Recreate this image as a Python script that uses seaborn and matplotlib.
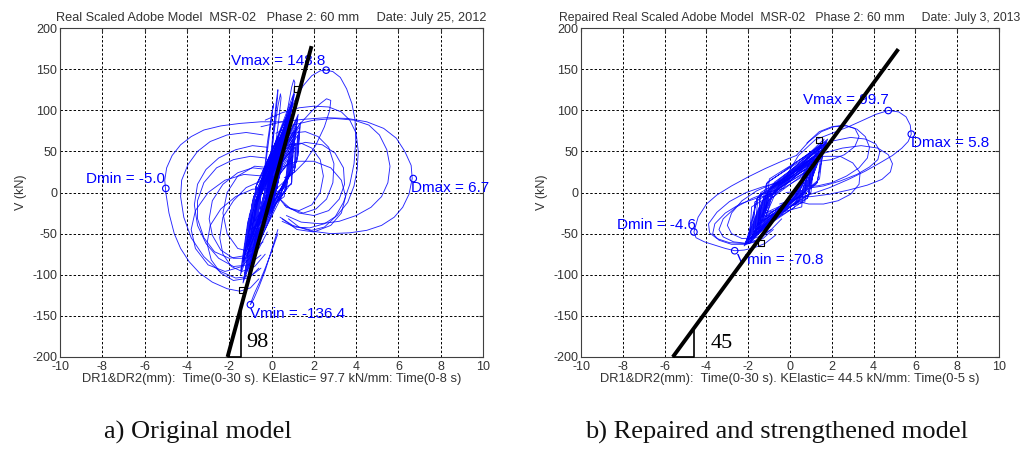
import numpy as np
import pandas as pd
import matplotlib
matplotlib.use("Agg")
import matplotlib.pyplot as plt
import seaborn as sns

# ---------------- Panel a) Original model ----------------
a_title = "Real Scaled Adobe Model  MSR-02   Phase 2: 60 mm     Date: July 25, 2012"
a_xlabel = "DR1&DR2(mm):  Time(0-30 s). KElastic= 97.7 kN/mm: Time(0-8 s)"
a_caption = "a) Original model"

a_core_d = [-0.2, 0.25, 0.5, -0.55, -0.8, 0.27, 0.72, -0.53, -0.99, 0.25, 0.31, -0.55, -0.62,
            0.27, 0.95, -0.53, -1.21, 0.25, 0.59, -0.55, -0.9, 0.13, 0.81, -0.67, -1.35,
            0.25, 0.4, -0.55, -0.71, 0.38, 1.04, -0.42, -1.08, 0.09, 0.63, -0.71, -1.26,
            0.25, 0.22, -0.55, -0.53, 0.31, 0.77, -0.49, -0.94, 0.11, 0.54, -0.69, -1.12,
            0.43, 0.9, -0.37, -0.85, 0.06, 0.36, -0.74, -1.03, 0.36, 0.68, -0.44, -0.76,
            0.04, 0.45, -0.76, -1.17, 0.5, 0.86, -0.3, -0.67, 0.09, 0.27, -0.71, -0.9,
            0.12, 0.75, -0.68, -1.3, 0.26, 0.51, -0.54, -0.79]
a_core_v = [0, 5, 60, 5, -50, 7.5, 85, 7.5, -70, 5, 40, 5, -30,
            7.5, 110, 7.5, -95, 5, 70, 5, -60, -7.5, 95, -7.5, -110,
            5, 50, 5, -40, 20, 120, 20, -80, -12.5, 75, -12.5, -100,
            5, 30, 5, -20, 12.5, 90, 12.5, -65, -10, 65, -10, -85,
            25, 105, 25, -55, -15, 45, -15, -75, 17.5, 80, 17.5, -45,
            -17.5, 55, -17.5, -90, 32.5, 100, 32.5, -35, -12.5, 35, -12.5, -60,
            -8.5, 88, -8.5, -105, 7, 62, 7, -48]

a_core2_d = [0.83, 1.04, -0.07, -0.27, 0.7, 0.9, -0.2, -0.41, 0.97, 1.22, 0.07, -0.18,
             0.6, 0.76, -0.3, -0.46, 0.83, 1.13, -0.07, -0.36, 0.81, 0.95, -0.09, -0.23,
             0.83, 1.26, -0.07, -0.5, 0.72, 0.86, -0.18, -0.32, 0.92, 1.08, 0.02, -0.14,
             0.67, 0.99, -0.23, -0.55, 0.9, 1.17, 0.0, -0.27, 0.67, 0.81, -0.23, -0.36]
a_core2_v = [20, 70, 20, -30, 5, 55, 5, -45, 35, 90, 35, -20,
             -5, 40, -5, -50, 20, 80, 20, -40, 17.5, 60, 17.5, -25,
             20, 95, 20, -55, 7.5, 50, 7.5, -35, 30, 75, 30, -15,
             2.5, 65, 2.5, -60, 27.5, 85, 27.5, -30, 2.5, 45, 2.5, -40]

a_core3_d = [-0.15, 0.15, -0.85, -1.15, -0.3, 0.02, -1.0, -1.33, -0.01, 0.29, -0.71, -1.01,
             -0.42, -0.07, -1.12, -1.46, -0.21, 0.11, -0.91, -1.24, -0.03, 0.34, -0.73, -1.1,
             -0.35, -0.03, -1.05, -1.37, -0.03, 0.2, -0.73, -0.96, -0.21, 0.06, -0.91, -1.19,
             -0.17, 0.25, -0.87, -1.28]
a_core3_v = [-5, 50, -5, -60, -22.5, 35, -22.5, -80, 10, 65, 10, -45,
             -35, 25, -35, -95, -12.5, 45, -12.5, -70, 7.5, 70, 7.5, -55,
             -27.5, 30, -27.5, -85, 7.5, 55, 7.5, -40, -12.5, 40, -12.5, -65,
             -7.5, 60, -7.5, -75]

a_core4_d = [1.08, 1.15, 0.18, 0.11, 1.19, 1.28, 0.29, 0.2, 0.94, 1.01, 0.04, -0.03,
             1.21, 1.37, 0.31, 0.16, 1.12, 1.1, 0.22, 0.25, 1.08, 1.24, 0.18, 0.02,
             0.96, 0.96, 0.06, 0.06, 1.26, 1.33, 0.36, 0.29]
a_core4_v = [25, 60, 25, -10, 37.5, 75, 37.5, 0, 10, 45, 10, -25,
             40, 85, 40, -5, 30, 55, 30, 5, 25, 70, 25, -20,
             12.5, 40, 12.5, -15, 45, 80, 45, 10]

a_core5_d = [0.26, 0.86, -0.24, -0.84, 0.06, 0.64, -0.44, -1.02, 0.42, 1.0, -0.08, -0.66,
             0.04, 0.5, -0.46, -0.93, 0.26, 0.77, -0.24, -0.75, 0.24, 1.09, -0.26, -1.11,
             0.26, 0.59, -0.24, -0.56, 0.26, 0.91, -0.24, -0.88, 0.08, 0.73, -0.42, -1.06,
             0.13, 0.45, -0.37, -0.7]
a_core5_v = [12.5, 95, 12.5, -70, -10, 70, -10, -90, 30, 110, 30, -50,
             -12.5, 55, -12.5, -80, 12.5, 85, 12.5, -60, 10, 120, 10, -100,
             12.5, 65, 12.5, -40, 12.5, 100, 12.5, -75, -7.5, 80, -7.5, -95,
             -2.5, 50, -2.5, -55]

a_core6_d = [-0.18, 0.17, -0.78, -1.12, 0.1, 0.52, -0.5, -0.92, -0.33, 0.07, -0.93, -1.32,
             -0.1, 0.37, -0.7, -1.17, 0.23, 0.67, -0.38, -0.82, -0.33, 0.22, -0.93, -1.47,
             0.0, 0.47, -0.6, -1.07, -0.13, 0.12, -0.73, -0.97]
a_core6_v = [-12.5, 40, -12.5, -65, 15, 75, 15, -45, -27.5, 30, -27.5, -85,
             -5, 60, -5, -70, 27.5, 90, 27.5, -35, -27.5, 45, -27.5, -100,
             5, 70, 5, -60, -7.5, 35, -7.5, -50]

a_outer1_d = [0.5, -0.5, -1.5, -2.4, -3.2, -3.8, -4.3, -4.7, -4.96, -5.05, -5.0, -4.85, -4.6,
              -4.3, -3.9, -3.4, -2.8, -2.1, -1.5, -1.0, -0.6]
a_outer1_v = [86, 86, 84, 81, 76, 68, 58, 45, 30, 15, 0, -25, -50,
              -68, -84, -98, -109, -117, -120, -116, -105]
a_outer2_d = [-0.4, -1.2, -2.1, -2.9, -3.5, -3.95, -4.25, -4.3, -4.15, -3.8, -3.2, -2.5, -1.7,
              -1.0, -0.6]
a_outer2_v = [70, 73, 70, 62, 50, 34, 15, -5, -30, -55, -78, -95, -104, -102, -92]
a_outer3_d = [-0.2, -0.9, -1.7, -2.5, -3.1, -3.5, -3.65, -3.5, -3.1, -2.5, -1.8, -1.1, -0.5]
a_outer3_v = [55, 57, 52, 42, 28, 10, -15, -40, -62, -80, -90, -88, -76]

a_mid1_d = [-0.3, -1.0, -1.8, -2.6, -3.2, -3.5, -3.5, -3.2, -2.7, -2.0, -1.3, -0.7, -0.3]
a_mid1_v = [42, 44, 40, 30, 12, -10, -32, -55, -72, -80, -77, -62, -40]
a_mid2_d = [-0.2, -0.9, -1.6, -2.3, -2.8, -2.95, -2.8, -2.4, -1.8, -1.2, -0.6, -0.2]
a_mid2_v = [28, 30, 24, 10, -10, -32, -52, -70, -80, -80, -68, -48]
a_mid3_d = [0.1, -0.5, -1.2, -1.8, -2.3, -2.45, -2.3, -1.9, -1.4, -0.8, -0.3]
a_mid3_v = [12, 14, 6, -10, -30, -55, -75, -90, -96, -90, -75]
a_mid4_d = [-0.2, -0.9, -1.7, -2.4, -2.9, -3.05, -2.85, -2.4, -1.8, -1.1, -0.5]
a_mid4_v = [5, 4, -5, -20, -40, -62, -82, -98, -107, -104, -92]
a_mid5_d = [-0.4, -1.3, -2.2, -3.0, -3.6, -3.8, -3.6, -3.0, -2.2, -1.4, -0.7]
a_mid5_v = [20, 22, 15, 0, -22, -45, -68, -88, -96, -90, -70]
a_mid6_d = [0.0, -0.8, -1.6, -2.1, -2.3, -2.1, -1.6, -1.0, -0.4]
a_mid6_v = [30, 32, 20, 0, -25, -50, -68, -72, -60]

a_right1_d = [-0.5, 0.5, 1.5, 2.6, 3.6, 4.5, 5.3, 5.9, 6.3, 6.6, 6.65, 6.5, 6.2, 5.8, 5.2,
              4.5, 3.7, 2.8, 1.9, 1.0, 0.4]
a_right1_v = [80, 86, 89, 91, 90, 86, 78, 66, 50, 33, 17, -2, -18, -30, -40,
              -46, -49, -50, -47, -40, -30]
a_right2_d = [-0.3, 0.5, 1.3, 2.0, 2.7, 3.3, 3.7, 4.0, 4.1, 4.05, 3.9, 3.6, 3.1, 2.5, 1.8, 1.1, 0.5]
a_right2_v = [88, 97, 103, 105, 104, 98, 88, 72, 50, 28, 8, -12, -28, -38, -43, -42, -35]
a_right3_d = [0.2, 1.0, 2.0, 3.0, 3.9, 4.6, 5.1, 5.45, 5.6, 5.5, 5.2, 4.7, 4.0, 3.2, 2.3, 1.4, 0.7]
a_right3_v = [72, 82, 88, 90, 88, 82, 70, 52, 32, 12, -5, -18, -28, -35, -38, -36, -28]
a_right4_d = [0.4, 0.9, 1.4, 1.9, 2.3, 2.6, 2.8, 2.75, 2.5, 2.1, 1.6, 1.1, 0.6]
a_right4_v = [50, 68, 85, 99, 108, 114, 112, 100, 80, 58, 38, 25, 18]
a_vmax_d = [0.3, 0.7, 1.1, 1.5, 1.9, 2.3, 2.58, 2.9, 3.25, 3.55, 3.8, 3.95, 3.98, 3.9, 3.7,
            3.4, 3.0, 2.5, 1.9, 1.3, 0.8]
a_vmax_v = [50, 85, 112, 130, 142, 148, 148.8, 147, 140, 126, 108, 88, 62, 35, 10,
            -12, -30, -42, -46, -42, -32]
a_n1_d = [0.3, 0.9, 1.6, 2.2, 2.7, 2.95, 2.9, 2.6, 2.1, 1.5, 0.9, 0.4]
a_n1_v = [65, 72, 74, 68, 55, 35, 12, -8, -20, -25, -20, -8]
a_n2_d = [0.2, 0.8, 1.4, 1.9, 2.3, 2.45, 2.3, 1.9, 1.3, 0.7, 0.3]
a_n2_v = [50, 58, 60, 54, 40, 20, 0, -15, -22, -18, -5]
a_n3_d = [0.0, 0.8, 1.6, 2.4, 3.0, 3.4, 3.45, 3.2, 2.7, 2.0, 1.3, 0.6]
a_n3_v = [42, 55, 61, 58, 48, 30, 10, -8, -22, -28, -25, -15]
a_n4_d = [0.4, 1.2, 2.0, 2.8, 3.3, 3.5, 3.3, 2.8, 2.0, 1.2, 0.5]
a_n4_v = [30, 38, 38, 30, 15, -5, -25, -40, -48, -45, -32]
a_thin1_d = [-0.3, -0.1, 0.1, 0.22, 0.3, 0.28, 0.15, -0.05, -0.3]
a_thin1_v = [-20, 30, 80, 110, 125, 115, 85, 35, -20]
a_thin2_d = [0.5, 0.75, 0.95, 1.05, 1.1, 1.05, 0.9, 0.7, 0.5]
a_thin2_v = [60, 100, 128, 137, 134, 120, 95, 70, 55]
a_thin3_d = [-0.1, 0.1, 0.3, 0.42, 0.45, 0.35, 0.15, -0.1]
a_thin3_v = [20, 70, 105, 120, 115, 90, 50, 10]
a_thin4_d = [-0.4, -0.2, 0.0, 0.1, 0.05, -0.15, -0.4]
a_thin4_v = [10, 60, 95, 108, 100, 60, 10]
a_vmin_d = [0.3, 0.0, -0.3, -0.6, -0.85, -1.0, -0.95, -0.8, -0.55, -0.3, 0.0, 0.3]
a_vmin_v = [-45, -70, -95, -115, -130, -136.4, -132, -122, -108, -92, -72, -50]

a_mark_d = [2.58, -5.0, 6.7, -1.0]
a_mark_v = [148.8, 5.0, 17.0, -136.4]
a_mark_text = ["Vmax = 148.8", "Dmin = -5.0", "Dmax = 6.7", "Vmin = -136.4"]
a_text_d = [-1.92, -8.77, 6.6, -1.0]
a_text_v = [160, 16, 6, -148]
a_square_d = [1.22, -1.41]
a_square_v = [126, -118.5]

a_kline_d = [-2.08, 1.89]
a_kline_v = [-200, 178]
a_tri_d = [-2.08, -1.46, -1.46]
a_tri_v = [-200, -200, -141]
a_k_label = "98"
a_k_pos = (-1.22, -182)

# ---------------- Panel b) Repaired model ----------------
b_title = "Repaired Real Scaled Adobe Model  MSR-02   Phase 2: 60 mm     Date: July 3, 2013"
b_xlabel = "DR1&DR2(mm):  Time(0-30 s). KElastic= 44.5 kN/mm: Time(0-5 s)"
b_caption = "b) Repaired and strengthened model"

b_core_d = [-0.2, 0.75, 1.3, -1.0, -1.6, 0.75, 1.7, -1.0, -2.0, 0.7, 0.9, -0.95, -1.2,
            0.6, 1.5, -1.2, -2.1, 0.7, 1.15, -1.0, -1.45, 0.9, 1.8, -0.85, -1.8,
            0.2, 0.8, -1.5, -2.15, 1.0, 1.55, -0.75, -1.35, 0.55, 1.25, -1.2, -1.9,
            0.85, 1.65, -0.9, -1.7, 0.4, 1.05, -1.35, -2.05, 0.8, 1.4, -0.95, -1.55,
            0.65, 1.75, -1.1, -2.2, 0.5, 0.9, -1.25, -1.65, 0.7, 1.45, -1.1, -1.85,
            0.85, 1.2, -0.95, -1.3]
b_core_v = [0, 2.5, 45, 2.5, -40, 2.5, 60, 2.5, -55, 2.5, 30, 2.5, -25,
            -4, 52, -4, -60, 1.5, 38, 1.5, -35, 8.5, 65, 8.5, -48,
            -18.5, 25, -18.5, -62, 12.5, 55, 12.5, -30, -5, 42, -5, -52,
            6.5, 58, 6.5, -45, -11.5, 35, -11.5, -58, 5, 48, 5, -38,
            -1.5, 62, -1.5, -65, -7, 28, -7, -42, 0, 50, 0, -50,
            6, 40, 6, -28]
b_core2_d = [0.88, 1.03, -1.53, -1.68, 1.31, 1.53, -1.09, -1.3, 0.56, 0.65, -1.84, -1.93,
             0.83, 1.35, -1.58, -2.1, 1.28, 1.7, -1.13, -1.55, 0.94, 0.9, -1.46, -1.43,
             0.84, 1.28, -1.56, -2.0, 1.41, 1.6, -0.99, -1.18, 0.71, 0.78, -1.69, -1.75,
             1.0, 1.15, -1.4, -1.55]
b_core2_v = [-5, 35, -5, -45, 12.5, 55, 12.5, -30, -17.5, 20, -17.5, -55,
             -7, 48, -7, -62, 11, 62, 11, -40, -2.5, 30, -2.5, -35,
             -6.5, 45, -6.5, -58, 16.5, 58, 16.5, -25, -11.5, 25, -11.5, -48,
             0, 40, 0, -40]
b_core3_d = [0.46, 1.25, -0.74, -1.53, 0.09, 0.88, -1.11, -1.9, 0.78, 1.63, -0.43, -1.28,
             0.3, 1.05, -0.9, -1.65, 0.31, 1.38, -0.89, -1.95, 0.38, 0.7, -0.83, -1.15,
             0.46, 1.5, -0.74, -1.78, 0.35, 0.95, -0.85, -1.45]
b_core3_v = [2.5, 50, 2.5, -45, -12.5, 35, -12.5, -60, 15, 65, 15, -35,
             -4, 42, -4, -50, -3.5, 55, -3.5, -62, -1, 28, -1, -30,
             2.5, 60, 2.5, -55, -2, 38, -2, -42]

b_vmax_d = [-0.3, 0.4, 1.2, 2.0, 2.8, 3.5, 4.1, 4.7, 5.2, 5.55, 5.75, 5.8, 5.65, 5.35, 4.9,
            4.3, 3.6, 2.8, 1.9, 1.0, 0.2, -0.5]
b_vmax_v = [15, 45, 64, 72, 80, 88, 95, 99.7, 98, 92, 82, 71, 62, 54, 45,
            36, 26, 16, 6, -2, -8, -14]
b_e1_d = [0.3, 0.9, 1.5, 2.1, 2.7, 3.2, 3.6, 3.8, 3.7, 3.3, 2.7, 2.0, 1.3, 0.6]
b_e1_v = [45, 62, 74, 80, 81, 77, 68, 55, 42, 30, 20, 12, 8, 8]
b_e2_d = [0.5, 1.3, 2.1, 2.9, 3.6, 4.1, 4.3, 4.2, 3.8, 3.2, 2.4, 1.6, 0.8]
b_e2_v = [40, 55, 63, 67, 65, 59, 50, 40, 31, 22, 14, 8, 5]
b_e3_d = [0.6, 1.5, 2.5, 3.4, 4.2, 4.7, 4.9, 4.8, 4.4, 3.7, 2.8, 1.9, 1.0, 0.3]
b_e3_v = [35, 47, 54, 57, 54, 46, 35, 25, 16, 9, 3, -2, -5, -6]
b_e4_d = [0.0, 0.8, 1.6, 2.4, 3.0, 3.35, 3.3, 2.9, 2.3, 1.6, 0.9, 0.2]
b_e4_v = [25, 37, 44, 44, 36, 24, 10, -2, -10, -14, -14, -10]
b_e5_d = [0.8, 1.4, 2.0, 2.6, 3.1, 3.3, 3.1, 2.6, 2.0, 1.4, 0.9]
b_e5_v = [60, 74, 80, 82, 78, 68, 56, 46, 40, 38, 42]
b_f1_d = [0.3, -0.4, -1.2, -2.0, -2.8, -3.5, -4.0, -4.4, -4.6, -4.5, -4.1, -3.6, -3.1,
          -2.65, -2.2, -1.7, -1.2, -0.7]
b_f1_v = [45, 38, 29, 19, 8, -3, -14, -30, -48, -55, -60, -64, -68,
          -70.8, -70, -67, -62, -52]
b_f2_d = [-0.5, -1.3, -2.1, -2.9, -3.5, -3.9, -3.85, -3.5, -2.9, -2.2, -1.5, -0.9]
b_f2_v = [12, 7, 0, -11, -24, -38, -49, -56, -61, -62, -57, -45]
b_f3_d = [-0.3, -1.0, -1.8, -2.6, -3.2, -3.4, -3.2, -2.7, -2.0, -1.3, -0.8]
b_f3_v = [5, 1, -7, -18, -32, -45, -54, -60, -62, -56, -45]
b_f4_d = [0.0, -0.8, -1.6, -2.3, -2.8, -3.0, -2.8, -2.3, -1.6, -0.9, -0.4]
b_f4_v = [18, 11, 2, -10, -25, -40, -50, -56, -55, -45, -32]
b_f5_d = [-0.6, -1.5, -2.4, -3.1, -3.6, -3.7, -3.4, -2.8, -2.1, -1.4]
b_f5_v = [0, -6, -14, -25, -38, -50, -58, -63, -63, -58]

b_mark_d = [4.7, 5.8, -4.6, -2.65]
b_mark_v = [99.7, 71.0, -48.0, -70.8]
b_mark_text = ["Vmax = 99.7", "Dmax = 5.8", "Dmin = -4.6", "Vmin = -70.8"]
b_text_d = [0.64, 5.77, -8.3, -2.55]
b_text_v = [112.6, 59.7, -39.5, -82]
b_square_d = [1.4, -1.4]
b_square_v = [64, -61]

b_kline_d = [-5.61, 5.18]
b_kline_v = [-200, 174.4]
b_tri_d = [-5.61, -4.59, -4.59]
b_tri_v = [-200, -200, -164.6]
b_k_label = "45"
b_k_pos = (-3.81, -183)

x_ticks = [-10, -8, -6, -4, -2, 0, 2, 4, 6, 8, 10]
y_ticks = [-200, -150, -100, -50, 0, 50, 100, 150, 200]

# ---------------- drawing ----------------
sns.set_style("white")
plt.rcParams['font.family'] = ['Liberation Sans', 'DejaVu Sans']
plt.rcParams['axes.unicode_minus'] = False

fig = plt.figure(figsize=(10.23, 4.5), dpi=100)
axA = fig.add_axes([0.0587, 0.2067, 0.4135, 0.731])
axB = fig.add_axes([0.568, 0.2067, 0.4086, 0.731])

BLUE = "#0000ff"
GREY = "#333333"


def frame(pairs):
    parts = [pd.DataFrame({"d": d, "v": v, "loop": i}) for i, (d, v) in enumerate(pairs)]
    return pd.concat(parts, ignore_index=True)


def draw_panel(ax, loops, core_list, mark_d, mark_v, texts, text_d, text_v,
               kd, kv, td, tv, klab, kpos, title, xlabel, title_size, sq_d, sq_v):
    df = frame(loops)
    sns.lineplot(data=df, x="d", y="v", units="loop", estimator=None, sort=False,
                 color=BLUE, lw=0.65, alpha=0.85, ax=ax)
    dfc = frame(core_list)
    sns.lineplot(data=dfc, x="d", y="v", units="loop", estimator=None, sort=False,
                 color=BLUE, lw=0.6, alpha=0.9, ax=ax)
    sns.scatterplot(x=mark_d, y=mark_v, ax=ax, marker="o", s=22,
                    facecolor="none", edgecolor=BLUE, linewidth=0.8, zorder=4)
    for t, x, y in zip(texts, text_d, text_v):
        ax.text(x, y, t, color=BLUE, fontsize=11, ha="left", va="center",
                clip_on=False, zorder=5)
    ax.plot(kd, kv, color="black", lw=2.8, solid_capstyle="butt", zorder=6, clip_on=False)
    ax.plot(td, tv, color="black", lw=1.2, zorder=6, clip_on=False)
    ax.text(kpos[0], kpos[1], klab, fontsize=16, family="Liberation Serif",
            ha="left", va="center", color="black", zorder=6)
    sns.scatterplot(x=sq_d, y=sq_v, ax=ax, marker="s", s=18,
                    facecolor="none", edgecolor="black", linewidth=0.8, zorder=7)

    ax.set_xlim(-10, 10)
    ax.set_ylim(-200, 200)
    ax.set_xticks(x_ticks)
    ax.set_yticks(y_ticks)
    ax.grid(True, color="black", linestyle=(0, (2.5, 2.0)), lw=0.7)
    ax.set_axisbelow(True)
    ax.tick_params(direction="in", length=3, colors=GREY, labelsize=9,
                   top=True, right=True)
    ax.tick_params(axis="x", pad=3)
    ax.tick_params(axis="y", pad=2)
    for s in ax.spines.values():
        s.set_color("#404040")
        s.set_linewidth(0.8)
    ax.set_title(title, fontsize=title_size, color=GREY, pad=5)
    ax.set_xlabel(xlabel, fontsize=9.3, color=GREY, labelpad=0)
    ax.set_ylabel("V (kN)", fontsize=9, color=GREY, labelpad=4)


a_loops = [(a_outer1_d, a_outer1_v), (a_outer2_d, a_outer2_v), (a_outer3_d, a_outer3_v),
           (a_mid1_d, a_mid1_v), (a_mid2_d, a_mid2_v), (a_mid3_d, a_mid3_v), (a_mid4_d, a_mid4_v),
           (a_mid5_d, a_mid5_v), (a_mid6_d, a_mid6_v),
           (a_right1_d, a_right1_v), (a_right2_d, a_right2_v), (a_right3_d, a_right3_v),
           (a_right4_d, a_right4_v), (a_vmax_d, a_vmax_v), (a_n1_d, a_n1_v), (a_n2_d, a_n2_v),
           (a_n3_d, a_n3_v), (a_n4_d, a_n4_v), (a_thin1_d, a_thin1_v), (a_thin2_d, a_thin2_v),
           (a_thin3_d, a_thin3_v), (a_thin4_d, a_thin4_v), (a_vmin_d, a_vmin_v)]
a_cores = [(a_core_d, a_core_v), (a_core2_d, a_core2_v), (a_core3_d, a_core3_v),
           (a_core4_d, a_core4_v), (a_core5_d, a_core5_v), (a_core6_d, a_core6_v)]

b_loops = [(b_vmax_d, b_vmax_v), (b_e1_d, b_e1_v), (b_e2_d, b_e2_v), (b_e3_d, b_e3_v),
           (b_e4_d, b_e4_v), (b_e5_d, b_e5_v), (b_f1_d, b_f1_v), (b_f2_d, b_f2_v),
           (b_f3_d, b_f3_v), (b_f4_d, b_f4_v), (b_f5_d, b_f5_v)]
b_cores = [(b_core_d, b_core_v), (b_core2_d, b_core2_v), (b_core3_d, b_core3_v)]

draw_panel(axA, a_loops, a_cores, a_mark_d, a_mark_v, a_mark_text, a_text_d, a_text_v,
           a_kline_d, a_kline_v, a_tri_d, a_tri_v, a_k_label, a_k_pos, a_title, a_xlabel, 9.2,
           a_square_d, a_square_v)
draw_panel(axB, b_loops, b_cores, b_mark_d, b_mark_v, b_mark_text, b_text_d, b_text_v,
           b_kline_d, b_kline_v, b_tri_d, b_tri_v, b_k_label, b_k_pos, b_title, b_xlabel, 8.85,
           b_square_d, b_square_v)

fig.text(0.193, 0.038, a_caption, family="Liberation Serif", fontsize=19,
         ha="center", va="center", color="#111111")
fig.text(0.7586, 0.038, b_caption, family="Liberation Serif", fontsize=19,
         ha="center", va="center", color="#111111")

fig.savefig("out.png", dpi=100, facecolor="white")
